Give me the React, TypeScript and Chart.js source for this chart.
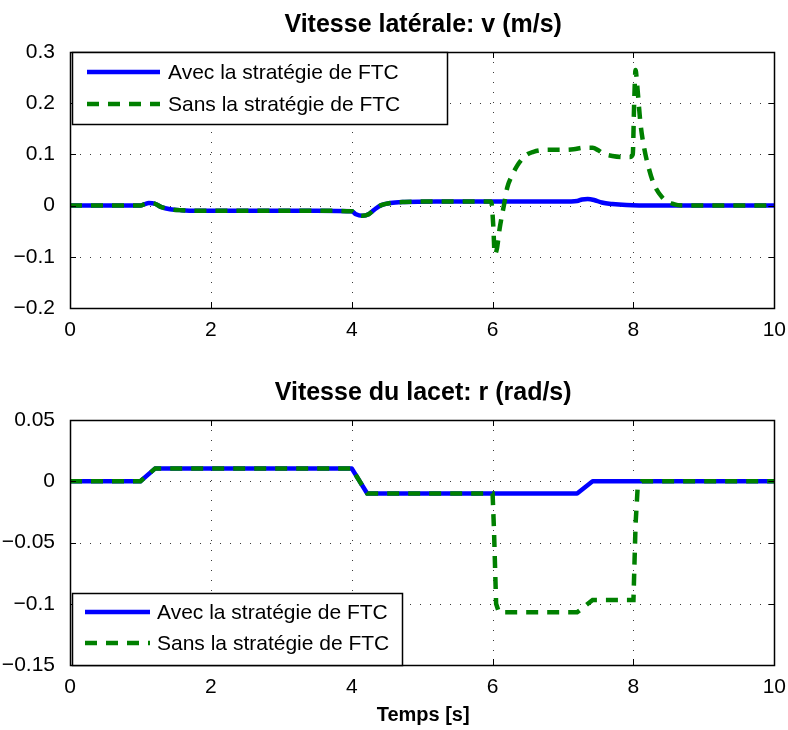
import React, { useEffect, useRef } from "react";
import { Chart, registerables } from "chart.js";

Chart.register(...registerables);

const FONT = '"Liberation Sans", Arial, Helvetica, sans-serif';

// ---- Data: lateral velocity v (m/s) ----
const vAvecT = [0, 1.0, 1.06, 1.12, 1.2, 1.3, 1.42, 1.58, 1.8, 2.5, 3.5, 4.0, 4.06, 4.15, 4.24, 4.32, 4.42, 4.55, 4.75, 5.2, 6.0, 7.0, 7.2, 7.27, 7.35, 7.44, 7.55, 7.7, 7.9, 8.3, 10];
const vAvecY = [0, 0, 0.003, 0.005, 0.004, -0.003, -0.007, -0.009, -0.01, -0.01, -0.01, -0.011, -0.017, -0.02, -0.017, -0.008, 0.001, 0.005, 0.007, 0.008, 0.008, 0.008, 0.009, 0.012, 0.013, 0.011, 0.006, 0.003, 0.001, 0, 0];
const vSansT = [0, 1.0, 1.06, 1.12, 1.2, 1.3, 1.42, 1.58, 1.8, 2.5, 3.5, 4.0, 4.06, 4.15, 4.24, 4.32, 4.42, 4.55, 4.75, 5.2, 5.98, 6.01, 6.03, 6.06, 6.1, 6.16, 6.21, 6.28, 6.35, 6.42, 6.49, 6.58, 6.68, 6.8, 7.0, 7.15, 7.3, 7.42, 7.5, 7.58, 7.7, 7.85, 7.95, 7.99, 8.01, 8.03, 8.05, 8.1, 8.15, 8.22, 8.29, 8.41, 8.57, 8.75, 10];
const vSansY = [0, 0, 0.003, 0.005, 0.004, -0.003, -0.007, -0.009, -0.01, -0.01, -0.01, -0.011, -0.017, -0.02, -0.017, -0.008, 0.001, 0.005, 0.007, 0.008, 0.008, -0.04, -0.095, -0.085, -0.045, 0.0, 0.036, 0.06, 0.078, 0.091, 0.1, 0.105, 0.108, 0.109, 0.109, 0.11, 0.113, 0.113, 0.108, 0.101, 0.097, 0.095, 0.095, 0.1, 0.2, 0.265, 0.24, 0.16, 0.114, 0.072, 0.042, 0.016, 0.003, 0, 0];

// ---- Data: yaw rate r (rad/s) ----
const rAvecT = [0, 1.0, 1.21, 4.0, 4.22, 7.2, 7.42, 10];
const rAvecY = [0, 0, 0.0105, 0.0105, -0.01, -0.01, 0, 0];
const rSansT = [0, 1.0, 1.21, 4.0, 4.22, 6.0, 6.02, 6.05, 6.09, 7.2, 7.42, 8.0, 8.03, 8.06, 8.12, 10];
const rSansY = [0, 0, 0.0105, 0.0105, -0.01, -0.01, -0.04, -0.1, -0.107, -0.107, -0.097, -0.097, -0.035, -0.005, 0, 0];

// ---- Labels / ticks ----
const labelAvec = "Avec la stratégie de FTC";
const labelSans = "Sans la stratégie de FTC";
const titleV = "Vitesse latérale: v (m/s)";
const titleR = "Vitesse du lacet: r (rad/s)";
const xLabel = "Temps [s]";
const xTicks = [0, 2, 4, 6, 8, 10];
const vTicks = [-0.2, -0.1, 0, 0.1, 0.2, 0.3];
const rTicks = [-0.15, -0.1, -0.05, 0, 0.05];

const BLUE = "#0000ff";
const GREEN = "#008000";

const toPts = (t: number[], y: number[]) => t.map((x, i) => ({ x, y: y[i] }));
const fmt = (v: number) => {
  const n = Number(Number(v).toFixed(3));
  const s = String(n);
  return s.replace("-", "\u2212");
};

const matlabPlugin = {
  id: "matlab",
  beforeDatasetsDraw(chart: any, _a: any, opts: any) {
    const { ctx, chartArea: a, scales } = chart;
    ctx.save();
    ctx.strokeStyle = "#3a3a3a";
    ctx.lineWidth = 1;
    ctx.setLineDash([1, 9]);
    for (const t of scales.x.ticks) {
      const px = Math.round(scales.x.getPixelForValue(t.value)) + 0.5;
      if (px <= a.left + 2 || px >= a.right - 2) continue;
      ctx.beginPath();
      ctx.moveTo(px, a.top);
      ctx.lineTo(px, a.bottom);
      ctx.stroke();
    }
    for (const t of scales.y.ticks) {
      const py = Math.round(scales.y.getPixelForValue(t.value)) + 0.5;
      if (py <= a.top + 2 || py >= a.bottom - 2) continue;
      ctx.beginPath();
      ctx.moveTo(a.left, py);
      ctx.lineTo(a.right, py);
      ctx.stroke();
    }
    ctx.restore();
  },
  afterDatasetsDraw(chart: any, _a: any, opts: any) {
    const { ctx, chartArea: a, scales } = chart;
    ctx.save();
    ctx.setLineDash([]);
    ctx.strokeStyle = "#000";
    ctx.lineWidth = 1;
    // inward tick marks
    const tl = 6;
    for (const t of scales.x.ticks) {
      const px = Math.round(scales.x.getPixelForValue(t.value)) + 0.5;
      ctx.beginPath();
      ctx.moveTo(px, a.bottom);
      ctx.lineTo(px, a.bottom - tl);
      ctx.moveTo(px, a.top);
      ctx.lineTo(px, a.top + tl);
      ctx.stroke();
    }
    for (const t of scales.y.ticks) {
      const py = Math.round(scales.y.getPixelForValue(t.value)) + 0.5;
      ctx.beginPath();
      ctx.moveTo(a.left, py);
      ctx.lineTo(a.left + tl, py);
      ctx.moveTo(a.right, py);
      ctx.lineTo(a.right - tl, py);
      ctx.stroke();
    }
    // box
    ctx.lineWidth = 1.5;
    ctx.strokeRect(Math.round(a.left) + 0.5, Math.round(a.top) + 0.5, Math.round(a.right - a.left), Math.round(a.bottom - a.top));

    // legend
    const lg = opts.legend;
    if (lg) {
      const bx = a.left + lg.dx;
      const by = lg.anchor === "bottom" ? a.bottom - lg.h : a.top + lg.dy;
      ctx.fillStyle = "#fff";
      ctx.fillRect(bx, by, lg.w, lg.h);
      ctx.strokeStyle = "#000";
      ctx.lineWidth = 1.5;
      ctx.strokeRect(bx + 0.5, by + 0.5, lg.w, lg.h);
      ctx.font = `21px ${FONT}`;
      ctx.textBaseline = "middle";
      ctx.textAlign = "left";
      chart.data.datasets.forEach((ds: any, i: number) => {
        const yy = by + lg.row0 + i * lg.rowGap;
        ctx.save();
        ctx.strokeStyle = ds.borderColor;
        ctx.lineWidth = ds.borderWidth;
        ctx.setLineDash(ds.borderDash || []);
        ctx.beginPath();
        ctx.moveTo(bx + lg.lx0, yy);
        ctx.lineTo(bx + lg.lx1, yy);
        ctx.stroke();
        ctx.restore();
        ctx.fillStyle = "#000";
        ctx.fillText(ds.label, bx + lg.tx, yy + 1);
      });
    }
    ctx.restore();
  },
  afterDraw(chart: any, _a: any, opts: any) {
    const { ctx, chartArea: a } = chart;
    ctx.save();
    ctx.fillStyle = "#000";
    ctx.textAlign = "center";
    ctx.textBaseline = "alphabetic";
    const cx = (a.left + a.right) / 2 + 1;
    if (opts.title) {
      ctx.font = `bold 25px ${FONT}`;
      ctx.fillText(opts.title, cx, a.top - 20.5);
    }
    if (opts.xlabel) {
      ctx.font = `bold 20px ${FONT}`;
      ctx.fillText(opts.xlabel, cx, a.bottom + 56);
    }
    ctx.restore();
  },
};

function makeConfig(
  avec: { x: number; y: number }[],
  sans: { x: number; y: number }[],
  yTicks: number[],
  padTop: number,
  xAxisH: number,
  smooth: boolean,
  pluginOpts: any
): any {
  return {
    type: "line",
    data: {
      datasets: [
        {
          label: labelAvec,
          data: avec,
          borderColor: BLUE,
          borderWidth: 4.5,
          pointRadius: 0,
          fill: false,
          order: 2,
          tension: 0,
          cubicInterpolationMode: smooth ? "monotone" : "default",
          borderJoinStyle: "round",
        },
        {
          label: labelSans,
          data: sans,
          borderColor: GREEN,
          borderWidth: 4.5,
          borderDash: [12, 9],
          pointRadius: 0,
          fill: false,
          order: 1,
          tension: 0,
          cubicInterpolationMode: smooth ? "monotone" : "default",
        },
      ],
    },
    options: {
      animation: false,
      responsive: false,
      devicePixelRatio: 1,
      parsing: false,
      normalized: true,
      layout: { padding: { top: padTop, left: 0, right: 12, bottom: 0 } },
      plugins: {
        legend: { display: false },
        title: { display: false },
        tooltip: { enabled: false },
        matlab: pluginOpts,
      },
      scales: {
        x: {
          type: "linear",
          min: xTicks[0],
          max: xTicks[xTicks.length - 1],
          grid: { display: false },
          border: { display: false },
          afterBuildTicks: (s: any) => {
            s.ticks = xTicks.map((v) => ({ value: v }));
          },
          afterFit: (s: any) => {
            s.height = xAxisH;
          },
          ticks: {
            color: "#000",
            font: { family: FONT, size: 21 },
            padding: 2,
            maxRotation: 0,
            callback: (v: any) => fmt(v),
          },
        },
        y: {
          type: "linear",
          min: yTicks[0],
          max: yTicks[yTicks.length - 1],
          grid: { display: false },
          border: { display: false },
          afterBuildTicks: (s: any) => {
            s.ticks = yTicks.map((v) => ({ value: v }));
          },
          afterFit: (s: any) => {
            s.width = 70;
          },
          ticks: {
            color: "#000",
            font: { family: FONT, size: 21 },
            padding: 7,
            callback: (v: any) => fmt(v),
          },
        },
      },
    },
    plugins: [matlabPlugin],
  };
}

export default function App() {
  const ref1 = useRef<HTMLCanvasElement | null>(null);
  const ref2 = useRef<HTMLCanvasElement | null>(null);

  useEffect(() => {
    const c1 = new Chart(
      ref1.current as HTMLCanvasElement,
      makeConfig(toPts(vAvecT, vAvecY), toPts(vSansT, vSansY), vTicks, 52, 355 - 308, true, {
        title: titleV,
        legend: { dx: 2, dy: 0, w: 375, h: 72, row0: 20, rowGap: 32, lx0: 15, lx1: 88, tx: 96 },
      })
    );
    const c2 = new Chart(
      ref2.current as HTMLCanvasElement,
      makeConfig(toPts(rAvecT, rAvecY), toPts(rSansT, rSansY), rTicks, 420 - 355, 730 - 665, false, {
        title: titleR,
        xlabel: xLabel,
        legend: { anchor: "bottom", dx: 2, w: 330, h: 72, row0: 19, rowGap: 31, lx0: 13, lx1: 78, tx: 85 },
      })
    );
    return () => {
      c1.destroy();
      c2.destroy();
    };
  }, []);

  return (
    <div style={{ position: "absolute", left: 0, top: 0, width: 788, height: 730, background: "#fff" }}>
      <canvas ref={ref1} width={788} height={355} style={{ position: "absolute", left: 0, top: 0, display: "block" }} />
      <canvas ref={ref2} width={788} height={375} style={{ position: "absolute", left: 0, top: 355, display: "block" }} />
    </div>
  );
}
